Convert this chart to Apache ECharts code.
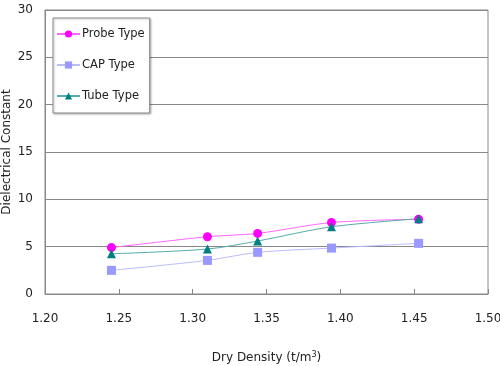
<!DOCTYPE html>
<html>
<head>
<meta charset="utf-8">
<script src="https://cdn.jsdelivr.net/npm/echarts@6/dist/echarts.min.js"></script>
<style>html,body{margin:0;padding:0;background:#fff}#c{width:500px;height:366px}</style>
</head>
<body>
<div id="c"></div>
<script>
var density = [1.245, 1.31, 1.344, 1.394, 1.453];
var probeType = [4.9, 6.05, 6.4, 7.55, 7.9];
var capType = [2.5, 3.55, 4.4, 4.85, 5.35];
var tubeType = [4.25, 4.75, 5.6, 7.1, 7.95];
var seriesNames = ['Probe Type', 'CAP Type', 'Tube Type'];

function pairs(xs, ys) { return xs.map(function (x, i) { return [x, ys[i]]; }); }

var font = 'DejaVu Sans';
var chart = echarts.init(document.getElementById('c'));
chart.setOption({
  animation: false,
  grid: { left: 45, right: 12, top: 10, bottom: 72, show: true, borderColor: '#888', borderWidth: 1, containLabel: false, outerBoundsMode: 'none' },
  legend: {
    orient: 'vertical', left: 53, top: 18,
    padding: [10, 5, 11, 3], itemGap: 19, itemWidth: 23, itemHeight: 9,
    backgroundColor: '#fff', borderColor: '#888', borderWidth: 1,
    shadowColor: 'rgba(0,0,0,0.25)', shadowBlur: 2, shadowOffsetX: 1, shadowOffsetY: 1,
    textStyle: { fontFamily: font, fontSize: 11.5, color: '#222', padding: [0, 0, 0, -3] },
    data: seriesNames
  },
  xAxis: {
    type: 'value', min: 1.2, max: 1.5, interval: 0.05,
    name: '{a|Dry Density (t/m}{s|3}{a|)}', nameLocation: 'middle', nameGap: 57, nameMoveOverlap: false,
    nameTextStyle: { rich: { a: { fontFamily: font, fontSize: 12, color: '#222' }, s: { fontFamily: font, fontSize: 8, color: '#222', verticalAlign: 'top', padding: [0, 0, 6, 0] } } },
    axisLine: { lineStyle: { color: '#888' } },
    axisTick: { inside: true, length: 5, lineStyle: { color: '#888' } },
    axisLabel: { margin: 19, fontFamily: font, fontSize: 12, color: '#222', formatter: function (v) { return v.toFixed(2); } },
    splitLine: { show: false }
  },
  yAxis: {
    type: 'value', min: 0, max: 30, interval: 5,
    name: 'Dielectrical Constant', nameLocation: 'middle', nameGap: 32, nameMoveOverlap: false,
    nameTextStyle: { fontFamily: font, fontSize: 12, color: '#222' },
    axisLine: { show: true, lineStyle: { color: '#888' } },
    axisTick: { show: false },
    axisLabel: { margin: 12, fontFamily: font, fontSize: 12, color: '#222' },
    splitLine: { lineStyle: { color: '#888', width: 1 } }
  },
  series: [
    { name: seriesNames[0], type: 'line', smooth: 0.3, data: pairs(density, probeType),
      symbol: 'circle', symbolSize: 9, itemStyle: { color: '#FF00FF' }, lineStyle: { color: '#FF66FF', width: 1 } },
    { name: seriesNames[1], type: 'line', smooth: 0.3, data: pairs(density, capType),
      symbol: 'rect', symbolSize: 9, itemStyle: { color: '#9999FF' }, lineStyle: { color: '#BBBBFF', width: 1 } },
    { name: seriesNames[2], type: 'line', smooth: 0.3, data: pairs(density, tubeType),
      symbol: 'triangle', symbolSize: 9, itemStyle: { color: '#008080' }, lineStyle: { color: '#55AAAA', width: 1 } }
  ]
});
</script>
</body>
</html>
